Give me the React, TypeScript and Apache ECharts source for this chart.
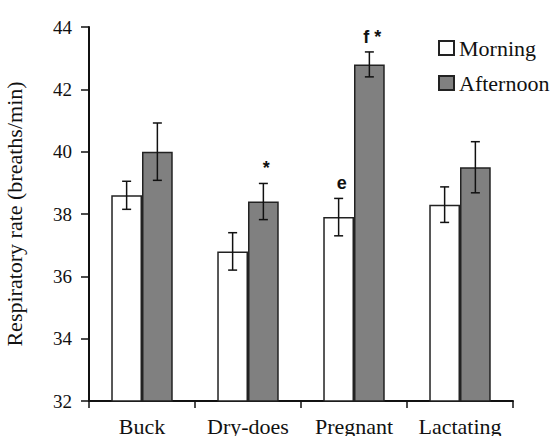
import React, { useEffect, useRef } from "react";
import * as echarts from "echarts";

const categories = ["Buck", "Dry-does", "Pregnant", "Lactating"];
const morning = [38.6, 36.8, 37.9, 38.3];
const afternoon = [40.0, 38.4, 42.8, 39.5];
const morningErr = [0.45, 0.6, 0.6, 0.57];
const afternoonErr = [0.92, 0.58, 0.4, 0.82];
const morningMarks = ["", "", "e", ""];
const afternoonMarks = ["", "*", "f *", ""];
const yTicks = [32, 34, 36, 38, 40, 42, 44];

const SERIF = "Liberation Serif";
const CAT_GAP = 0.42;

function errorSeries(name: string, values: number[], errs: number[], marks: string[], side: number) {
  return {
    type: "custom",
    name: name + "-err",
    silent: true,
    z: 5,
    data: values.map((v, i) => [i, v, errs[i]]),
    encode: { x: 0, y: 1 },
    renderItem: (params: any, api: any) => {
      const idx = api.value(0);
      const val = api.value(1);
      const err = api.value(2);
      const band = api.size([1, 0])[0];
      const barW = (band * (1 - CAT_GAP)) / 2;
      const cx = api.coord([idx, val])[0] + (side * barW) / 2;
      const yTop = api.coord([idx, val + err])[1];
      const yBot = api.coord([idx, val - err])[1];
      const cap = 4.5;
      const st = { stroke: "#111", lineWidth: 1.5 };
      const children: any[] = [
        { type: "line", shape: { x1: cx, y1: yTop, x2: cx, y2: yBot }, style: st },
        { type: "line", shape: { x1: cx - cap, y1: yTop, x2: cx + cap, y2: yTop }, style: st },
        { type: "line", shape: { x1: cx - cap, y1: yBot, x2: cx + cap, y2: yBot }, style: st },
      ];
      const m = marks[params.dataIndex];
      if (m) {
        children.push({
          type: "text",
          x: cx + 3,
          y: yTop - 6,
          style: {
            text: m,
            font: "bold 18px Liberation Sans",
            fill: "#111",
            align: "center",
            verticalAlign: "bottom",
          },
        });
      }
      return { type: "group", children };
    },
  };
}

export default function App() {
  const ref = useRef<HTMLDivElement>(null);
  useEffect(() => {
    if (!ref.current) return;
    const chart = echarts.init(ref.current, undefined, { renderer: "svg" });
    chart.setOption({
      animation: false,
      backgroundColor: "#fff",
      textStyle: { fontFamily: SERIF },
      grid: { left: 89, right: 38, top: 27, bottom: 35, containLabel: false, outerBoundsMode: "none" },
      legend: {
        data: ["Morning", "Afternoon"],
        orient: "vertical",
        left: 433,
        top: 32,
        itemWidth: 15,
        itemHeight: 14,
        itemGap: 13,
        icon: "rect",
        textStyle: { fontFamily: SERIF, fontSize: 22, color: "#111" },
      },
      xAxis: {
        type: "category",
        data: categories,
        axisLine: { lineStyle: { color: "#111", width: 2 } },
        axisTick: { show: true, length: 7, lineStyle: { color: "#111", width: 1.5 } },
        axisLabel: { interval: 0, fontFamily: SERIF, fontSize: 22, color: "#111", margin: 14 },
      },
      yAxis: {
        type: "value",
        min: 32,
        max: 44,
        interval: 2,
        name: "Respiratory rate (breaths/min)",
        nameLocation: "middle",
        nameGap: 64,
        nameTextStyle: { fontFamily: SERIF, fontSize: 22, color: "#111" },
        splitLine: { show: false },
        axisLine: { show: true, lineStyle: { color: "#111", width: 2 } },
        axisTick: { show: true, length: 8, lineStyle: { color: "#111", width: 1.5 } },
        axisLabel: {
          fontFamily: SERIF,
          fontSize: 19,
          color: "#111",
          margin: 17,
          formatter: (v: number) => (yTicks.includes(v) ? String(v) : ""),
        },
      },
      series: [
        {
          type: "bar",
          name: "Morning",
          data: morning,
          barGap: "0%",
          barCategoryGap: CAT_GAP * 100 + "%",
          itemStyle: { color: "#ffffff", borderColor: "#222", borderWidth: 1.5 },
        },
        {
          type: "bar",
          name: "Afternoon",
          data: afternoon,
          barGap: "0%",
          barCategoryGap: CAT_GAP * 100 + "%",
          itemStyle: { color: "#808080", borderColor: "#222", borderWidth: 1.5 },
        },
        errorSeries("Morning", morning, morningErr, morningMarks, -1),
        errorSeries("Afternoon", afternoon, afternoonErr, afternoonMarks, 1),
      ],
    });
    return () => chart.dispose();
  }, []);
  return <div ref={ref} style={{ width: 551, height: 436, position: "absolute", left: 0, top: 0 }} />;
}
